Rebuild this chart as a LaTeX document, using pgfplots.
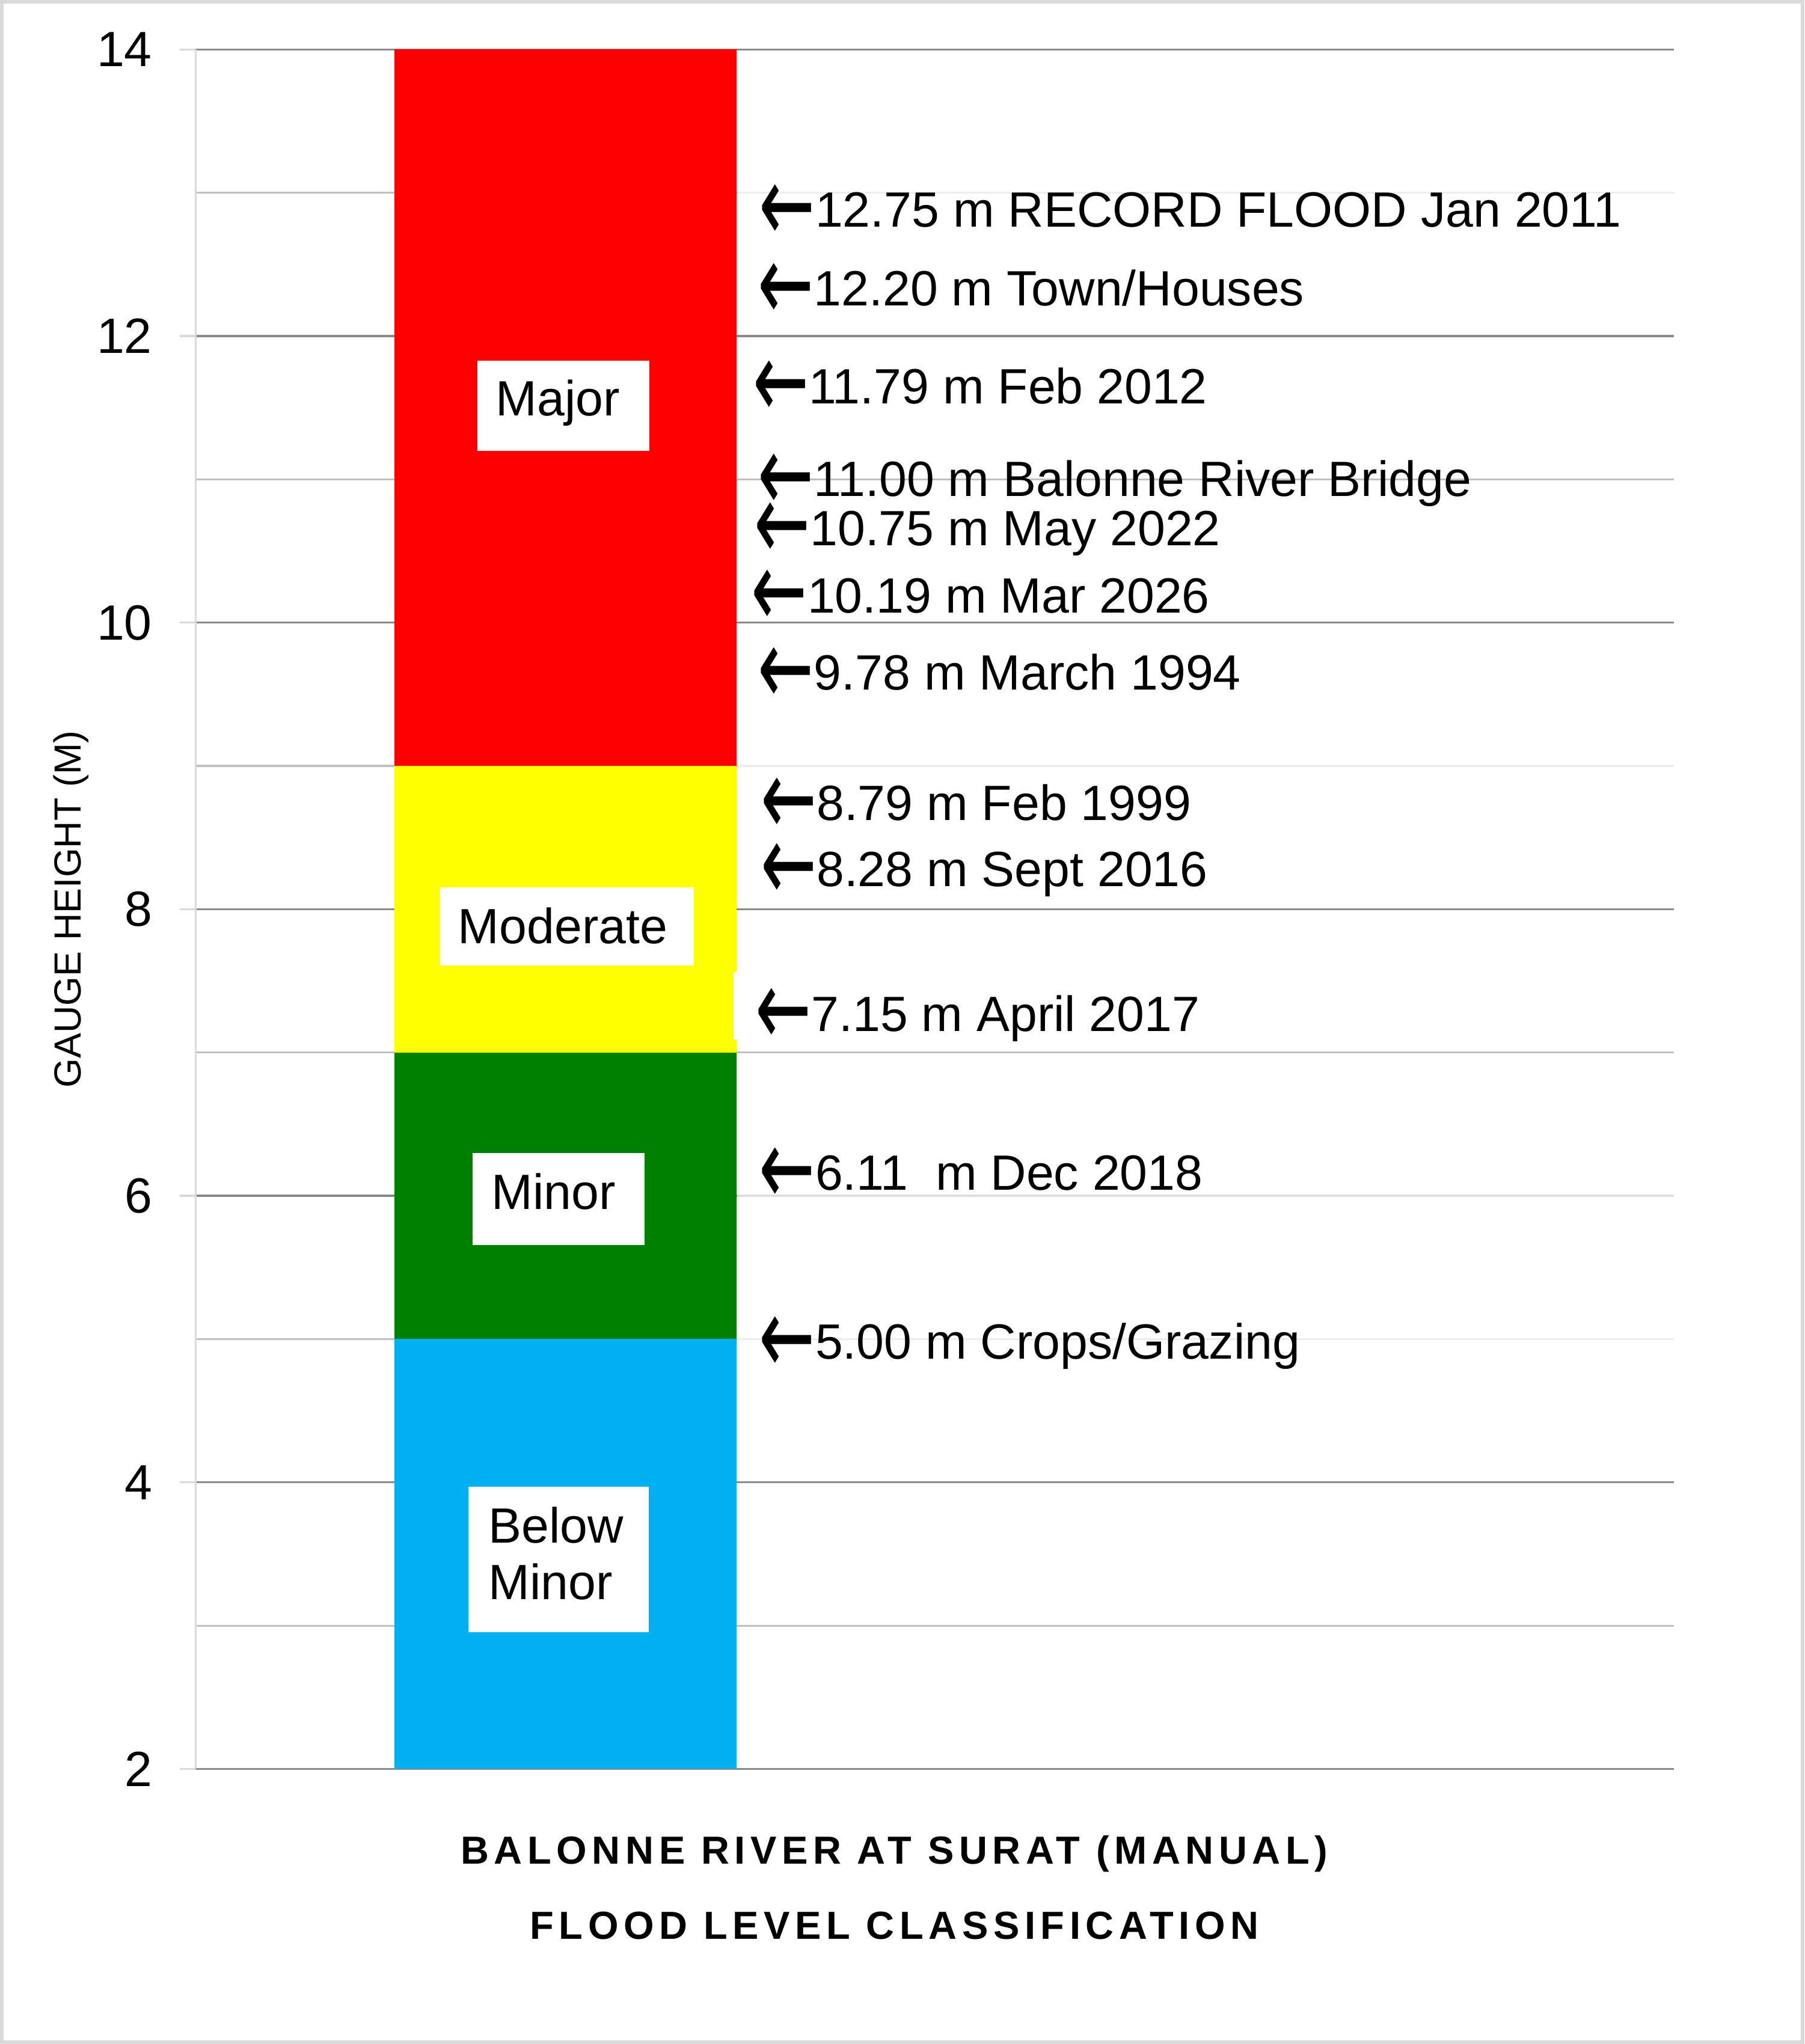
\documentclass[border=0pt]{standalone}
\usepackage{fontspec}
\setmainfont{Liberation Sans}
\newfontfamily\titlefont[LetterSpace=13.2]{Liberation Sans}
\newfontfamily\arrowfont{DejaVu Sans}
\usepackage{pgfplots}
\pgfplotsset{compat=1.18}

\definecolor{floodred}{HTML}{FF0000}
\definecolor{floodyellow}{HTML}{FFFF00}
\definecolor{floodgreen}{HTML}{008000}
\definecolor{floodblue}{HTML}{00B0F0}
\definecolor{majgrid}{HTML}{898989}
\definecolor{mingrid}{HTML}{C0C0C0}
\definecolor{axisgray}{HTML}{D9D9D9}

\newcommand{\annfont}{\fontsize{19}{22}\selectfont}
% large open-headed left arrow in front of each level
\newcommand{\la}{\raisebox{-0.30em}{\scalebox{1.35}[2.2]{\arrowfont ←}}}

\tikzset{
    ann/.style={anchor=base west, inner sep=0pt, font=\annfont},
    ttl/.style={anchor=base, inner sep=0pt, font=\titlefont\bfseries\fontsize{15}{18}\selectfont},
}

\begin{document}
\begin{tikzpicture}
\path[use as bounding box] (0,0) rectangle (692pt,784pt);
\begin{axis}[
    at={(75pt,105.5pt)}, anchor=south west,
    width=567pt, height=659.5pt, scale only axis,
    xmin=150, xmax=1284, ymin=2, ymax=14,
    clip mode=individual,
    ybar, bar width=262.4, bar shift=0pt,
    axis x line=none, axis y line*=left,
    y axis line style={draw=axisgray, line width=0.75pt},
    ytick={2,4,...,14}, minor ytick={3,5,...,13},
    ymajorgrids, yminorgrids,
    major grid style={draw=majgrid, line width=0.75pt},
    minor grid style={draw=mingrid, line width=0.75pt},
    tick align=outside, major tick length=6pt, minor tick length=0pt,
    ytick style={draw=axisgray, line width=0.75pt},
    /pgf/number format/assume math mode=true,
    yticklabel style={font=\annfont, anchor=east, inner sep=0pt, xshift=-10.5pt},
    ylabel={GAUGE HEIGHT (M)},
    ylabel style={at={(axis description cs:-0.0776,0.5)}, anchor=base,
        inner sep=0pt, font=\fontsize{14.5}{17}\selectfont},
]
% upper limit of each flood class, drawn top class first
\addplot[fill=floodred, draw=none] coordinates {(433.8,14)};
\addplot[fill=floodyellow, draw=none] coordinates {(433.8,9)};
\addplot[fill=floodgreen, draw=none] coordinates {(433.8,7)};
\addplot[fill=floodblue, draw=none] coordinates {(433.8,5)};

% label boxes behind the annotations wash out some grid lines
\fill[white, opacity=0.72] (axis cs:565.5,12.96) rectangle (axis cs:1284,13.04);
\fill[white, opacity=0.72] (axis cs:565.5,8.96) rectangle (axis cs:1284,9.04);
\fill[white, opacity=0.72] (axis cs:565.5,5.96) rectangle (axis cs:1284,6.04);
\fill[white, opacity=0.72] (axis cs:565.5,4.96) rectangle (axis cs:1284,5.04);
\fill[white] (axis cs:562.7,7.09) rectangle (axis cs:565.5,7.56);

% class labels
\fill[white] (axis cs:366,11.198) rectangle (axis cs:498,11.83);
\node[ann] at (axis cs:380,11.444) {Major};
\fill[white] (axis cs:337,7.608) rectangle (axis cs:532,8.153);
\node[ann] at (axis cs:351,7.762) {Moderate};
\fill[white] (axis cs:362.5,5.658) rectangle (axis cs:494.5,6.297);
\node[ann] at (axis cs:376.6,5.907) {Minor};
\fill[white] (axis cs:359.4,2.956) rectangle (axis cs:497.7,3.968);
\node[ann] at (axis cs:374.3,3.578) {Below};
\node[ann] at (axis cs:374.3,3.183) {Minor};

% flood history
\node[ann] at (axis cs:582,12.76) {\la12.75 m RECORD FLOOD Jan 2011};
\node[ann] at (axis cs:581,12.21) {\la12.20 m Town/Houses};
\node[ann] at (axis cs:577,11.53) {\la11.79 m Feb 2012};
\node[ann] at (axis cs:581,10.88) {\la11.00 m Balonne River Bridge};
\node[ann] at (axis cs:578,10.54) {\la10.75 m May 2022};
\node[ann] at (axis cs:576,10.07) {\la10.19 m Mar 2026};
\node[ann] at (axis cs:581,9.53) {\la9.78 m March 1994};
\node[ann] at (axis cs:583,8.62) {\la8.79 m Feb 1999};
\node[ann] at (axis cs:583,8.16) {\la8.28 m Sept 2016};
\node[ann] at (axis cs:579,7.15) {\la7.15 m April 2017};
\node[ann] at (axis cs:582,6.04) {\la6.11\ \ m Dec 2018};
\node[ann] at (axis cs:582,4.86) {\la5.00 m Crops/Grazing};

% chart title under the plot
\node[ttl] at (axis cs:686,1.336) {BALONNE RIVER AT SURAT (MANUAL)};
\node[ttl] at (axis cs:686,0.813) {FLOOD LEVEL CLASSIFICATION};
\end{axis}
\draw[axisgray, line width=1.4pt] (0.7pt,0.7pt) rectangle (691.3pt,783.3pt);
\end{tikzpicture}
\end{document}
